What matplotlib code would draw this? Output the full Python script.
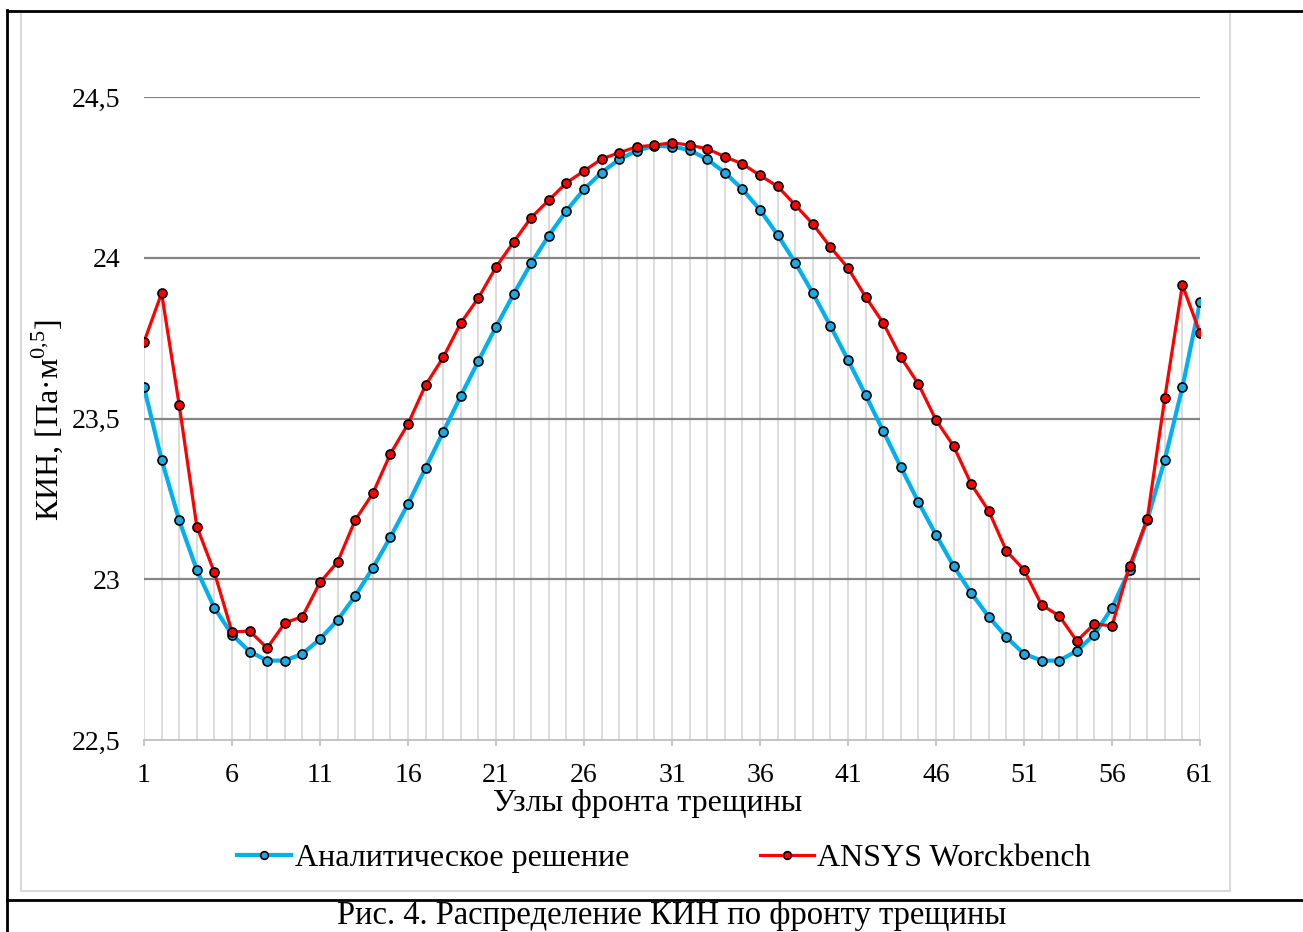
import numpy as np
import matplotlib
matplotlib.use("Agg")
import matplotlib.pyplot as plt
from matplotlib.lines import Line2D

plt.rcParams['font.family'] = ['Liberation Serif', 'DejaVu Serif']
plt.rcParams['mathtext.fontset'] = 'custom'
plt.rcParams['mathtext.rm'] = 'Liberation Serif'

# узлы фронта трещины
nodes = np.arange(1, 62)

# аналитическое решение
analytic = [23.597, 23.372, 23.183, 23.029, 22.911, 22.828, 22.775, 22.747, 22.747, 22.768,
            22.814, 22.873, 22.948, 23.035, 23.131, 23.234, 23.346, 23.458, 23.570, 23.679,
            23.785, 23.887, 23.983, 24.069, 24.146, 24.213, 24.265, 24.306, 24.333, 24.348,
            24.346, 24.335, 24.306, 24.265, 24.213, 24.149, 24.071, 23.985, 23.890, 23.788,
            23.682, 23.573, 23.461, 23.349, 23.240, 23.138, 23.041, 22.957, 22.883, 22.820,
            22.768, 22.747, 22.747, 22.777, 22.828, 22.911, 23.030, 23.184, 23.372, 23.597,
            23.863]

# ANSYS Workbench
ansys = [23.738, 23.890, 23.542, 23.164, 23.021, 22.836, 22.839, 22.786, 22.864, 22.884,
         22.990, 23.054, 23.184, 23.267, 23.390, 23.483, 23.604, 23.690, 23.797, 23.875,
         23.971, 24.049, 24.125, 24.179, 24.233, 24.270, 24.307, 24.327, 24.345, 24.350,
         24.358, 24.350, 24.339, 24.314, 24.292, 24.256, 24.222, 24.164, 24.105, 24.033,
         23.968, 23.878, 23.797, 23.691, 23.607, 23.495, 23.414, 23.296, 23.212, 23.088,
         23.029, 22.920, 22.886, 22.808, 22.861, 22.855, 23.041, 23.187, 23.564, 23.915,
         23.766]

y_ticks = [22.5, 23, 23.5, 24, 24.5]
y_labels = ['22,5', '23', '23,5', '24', '24,5']
x_ticks = list(range(1, 62, 5))

W, H = 1303, 932
fig = plt.figure(figsize=(W / 100, H / 100), dpi=100)

def fx(px):
    return px / W

def fy(py):
    return 1 - py / H

ax = fig.add_axes([fx(144), fy(740), fx(1200) - fx(144), fy(97) - fy(740)])

# линии проекции (drop lines)
top = np.maximum(analytic, ansys)
ax.vlines(nodes, 22.5, top, colors='#d9d9d9', lw=1.3, zorder=1)

# сетка
for yv in y_ticks[1:]:
    ax.axhline(yv, color='#858585', lw=1.6, zorder=2)

ax.plot(nodes, analytic, color='#00B0F0', lw=3.0, marker='o', ms=6.5,
        mfc='#1fa9e1', mec='black', mew=1.2, zorder=3, label='Аналитическое решение')
ax.plot(nodes, ansys, color='#FF0000', lw=2.3, marker='o', ms=6.5,
        mfc='#FF0000', mec='black', mew=1.2, zorder=4, label='ANSYS Worckbench')

ax.set_xlim(1, 61)
ax.set_ylim(22.5, 24.5)
ax.set_yticks(y_ticks)
ax.set_yticklabels(y_labels, fontsize=20)
ax.set_xticks(x_ticks)
ax.set_xticklabels([str(t) for t in x_ticks], fontsize=20)

for s in ['top', 'right', 'left']:
    ax.spines[s].set_visible(False)
ax.spines['bottom'].set_color('#bfbfbf')
ax.spines['bottom'].set_linewidth(1.3)
ax.tick_params(axis='y', length=0, pad=17)
ax.tick_params(axis='x', length=4, width=1.2, color='#bfbfbf', direction='out', pad=12.5)

fig.text(fx(648), fy(803), 'Узлы фронта трещины', fontsize=23, ha='center', va='center')
fig.text(fx(47), fy(420), r'КИН, [Па·м$^{\mathrm{0{,}5}}$]', fontsize=23,
         rotation=90, ha='center', va='center')

fig.legend(loc='center', bbox_to_anchor=(fx(664), fy(858)), ncol=2, frameon=False,
           fontsize=23, handlelength=1.7, handletextpad=0.1, columnspacing=4.1,
           numpoints=1, markerscale=0.85)

# рамка области диаграммы
fig.add_artist(plt.Rectangle((fx(21), fy(891)), fx(1230) - fx(21), fy(12) - fy(891),
                             transform=fig.transFigure, fill=False, ec='#d9d9d9', lw=1.5))
# рамка таблицы
fig.add_artist(Line2D([fx(7), 1], [fy(10.5), fy(10.5)], transform=fig.transFigure, color='black', lw=2))
fig.add_artist(Line2D([fx(7), fx(7)], [fy(10), 0], transform=fig.transFigure, color='black', lw=2))
fig.add_artist(Line2D([fx(7), 1], [fy(900), fy(900)], transform=fig.transFigure, color='black', lw=2))

fig.text(fx(672), fy(924), 'Рис. 4. Распределение КИН по фронту трещины', fontsize=23.5,
         ha='center', va='baseline')

fig.savefig('out.png', dpi=100)
